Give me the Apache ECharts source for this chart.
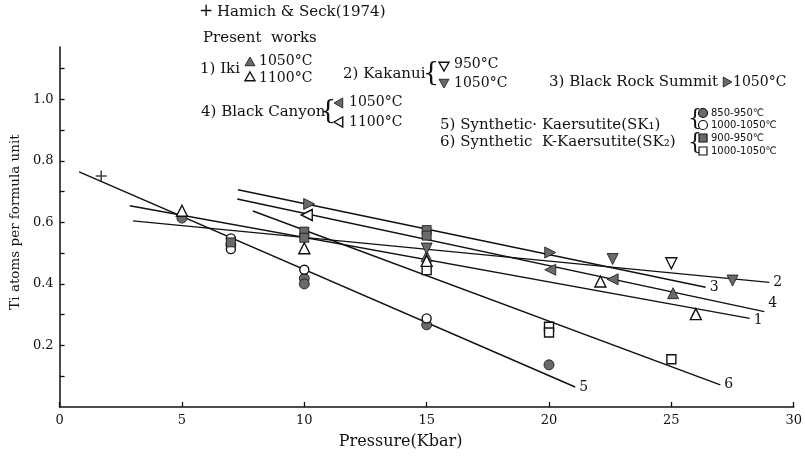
<!DOCTYPE html>
<html><head><meta charset="utf-8">
<script src="https://cdn.jsdelivr.net/npm/echarts@6/dist/echarts.min.js"></script>
<style>html,body{margin:0;padding:0;background:#fff}#c{width:805px;height:456px}</style>
</head><body><div id="c"></div>
<script>
// ---- data ----
const hamich = [[1.7, 0.751]];
const iki1050 = [[15, 0.49], [25.07, 0.37]];
const iki1100 = [[5, 0.638], [10, 0.516], [15, 0.475], [22.1, 0.408], [26, 0.302]];
const kak950 = [[25, 0.467]];
const kak1050 = [[15, 0.515], [22.6, 0.481], [27.5, 0.411]];
const brs1050 = [[10.2, 0.66], [20.05, 0.502]];
const bc1050 = [[20.05, 0.446], [22.6, 0.415]];
const bc1100 = [[10.1, 0.624]];
const sk1Low = [[5, 0.614], [7, 0.528], [10, 0.418], [10, 0.400], [15, 0.267], [20, 0.137]];
const sk1High = [[7, 0.548], [7, 0.513], [10, 0.446], [15, 0.288]];
const sk2Low = [[7, 0.535], [10, 0.57], [10, 0.55], [15, 0.575], [15, 0.557]];
const sk2High = [[15, 0.445], [20, 0.261], [20, 0.242], [25, 0.155]];
// regression lines: [start, end]
const line1 = [[2.87, 0.654], [28.2, 0.288]];
const line2 = [[3.0, 0.605], [29.0, 0.405]];
const line3 = [[7.29, 0.706], [26.4, 0.389]];
const line4 = [[7.26, 0.676], [28.8, 0.31]];
const line5 = [[0.8, 0.764], [21.07, 0.065]];
const line6 = [[7.9, 0.637], [27.0, 0.072]];
const xTicks = [0, 5, 10, 15, 20, 25, 30];
const yTicks = [0.1, 0.2, 0.3, 0.4, 0.5, 0.6, 0.7, 0.8, 0.9, 1.0, 1.1];
const yLabels = [0.2, 0.4, 0.6, 0.8, 1.0];

const SERIF = 'DejaVu Serif';
const GRAY = '#6a6a6a';
const chart = echarts.init(document.getElementById('c'), null, {renderer: 'canvas'});

function lineSeries(data, name, lab, off) {
  return {
    type: 'line', name: name, data: data, symbol: 'none', z: 2, silent: true,
    lineStyle: {color: '#111', width: 1.4},
    endLabel: {show: true, formatter: lab, color: '#111', fontFamily: SERIF, fontSize: 14, distance: 4, offset: off || [0, 0]}
  };
}
function scat(data, symbol, rot, filled, size) {
  return {
    type: 'scatter', data: data, symbol: symbol, symbolRotate: rot, symbolSize: size || 11, z: 5,
    itemStyle: {color: filled ? GRAY : '#fff', borderColor: '#111', borderWidth: filled ? 0.8 : 1.4, opacity: 1}
  };
}
const plusPath = 'path://M0,4.3H10V5.7H0Z M4.3,0H5.7V10H4.3Z';

// legend graphics
const g = [];
function txt(x, y, s, size, fam) {
  size = size || 15;
  g.push({type: 'text', x: x, y: y, style: {text: s, fill: '#111', fontSize: size, fontFamily: fam || SERIF, verticalAlign: 'middle', align: 'left'}});
}
function tri(cx, cy, dir, filled, r) {
  r = r || 5;
  let pts;
  if (dir === 'up') pts = [[cx, cy - r], [cx + r, cy + r * 0.75], [cx - r, cy + r * 0.75]];
  else if (dir === 'down') pts = [[cx, cy + r], [cx + r, cy - r * 0.75], [cx - r, cy - r * 0.75]];
  else if (dir === 'right') pts = [[cx + r, cy], [cx - r * 0.75, cy - r], [cx - r * 0.75, cy + r]];
  else pts = [[cx - r, cy], [cx + r * 0.75, cy - r], [cx + r * 0.75, cy + r]];
  g.push({type: 'polygon', shape: {points: pts}, style: {fill: filled ? GRAY : '#fff', stroke: '#111', lineWidth: filled ? 0.8 : 1.4}});
}
function circ(cx, cy, filled) {
  g.push({type: 'circle', shape: {cx: cx, cy: cy, r: 4.5}, style: {fill: filled ? GRAY : '#fff', stroke: '#111', lineWidth: 1.2}});
}
function sq(cx, cy, filled) {
  g.push({type: 'rect', shape: {x: cx - 4, y: cy - 4, width: 8, height: 8}, style: {fill: filled ? GRAY : '#fff', stroke: '#111', lineWidth: 1.2}});
}
function brace(x, y, h) {
  g.push({type: 'text', x: x, y: y, style: {text: '{', fill: '#111', fontSize: h, fontFamily: 'DejaVu Serif', verticalAlign: 'middle', align: 'center'}});
}
txt(199, 12, '+', 17, 'DejaVu Sans');
txt(217, 12, 'Hamich & Seck(1974)');
txt(203, 38, 'Present  works');
txt(200, 69, '1) Iki');
tri(250, 62, 'up', true); txt(259, 61, '1050°C', 14);
tri(250, 77, 'up', false); txt(259, 78, '1100°C', 14);
txt(343, 74, '2) Kakanui');
brace(431, 74, 26);
tri(444, 66, 'down', false); txt(454, 64, '950°C', 14);
tri(444, 83, 'down', true); txt(454, 83, '1050°C', 14);
txt(549, 82, '3) Black Rock Summit');
tri(727, 82, 'right', true); txt(733, 82, '1050°C', 14);
txt(201, 112, '4) Black Canyon');
brace(328, 112, 26);
tri(339, 103, 'left', true); txt(349, 102, '1050°C', 14);
tri(339, 122, 'left', false); txt(349, 122, '1100°C', 14);
txt(440, 125, '5) Synthetic· Kaersutite(SK₁)');
txt(440, 142, '6) Synthetic  K-Kaersutite(SK₂)');
brace(695, 119, 22);
brace(695, 143, 22);
circ(703, 113, true); txt(711, 113, '850-950℃', 10, 'DejaVu Sans');
circ(703, 125, false); txt(711, 125, '1000-1050℃', 10, 'DejaVu Sans');
sq(703, 138, true); txt(711, 138, '900-950℃', 10, 'DejaVu Sans');
sq(703, 151, false); txt(711, 151, '1000-1050℃', 10, 'DejaVu Sans');

const option = {
  animation: false,
  backgroundColor: '#fff',
  grid: {left: 53, right: 5, top: 47, bottom: 49, containLabel: false},
  xAxis: {
    type: 'value', min: 0, max: 30, interval: 5,
    name: 'Pressure(Kbar)', nameLocation: 'middle', nameGap: 27,
    nameTextStyle: {fontFamily: SERIF, fontSize: 16, color: '#111', padding: [0, 52, 0, 0]},
    axisLine: {lineStyle: {color: '#111', width: 1.5}},
    axisTick: {inside: true, length: 5, lineStyle: {color: '#111', width: 1.3}},
    axisLabel: {fontFamily: SERIF, fontSize: 13, color: '#111', margin: 7, customValues: xTicks},
    splitLine: {show: false}
  },
  yAxis: {
    type: 'value', min: 0, max: 1.17,
    name: 'Ti atoms per formula unit', nameLocation: 'middle', nameGap: 37, nameRotate: 90,
    nameTextStyle: {fontFamily: SERIF, fontSize: 13.5, color: '#111', padding: [0, 0, 0, 10]},
    axisLine: {lineStyle: {color: '#111', width: 1.5}},
    axisTick: {inside: true, length: 5, customValues: yTicks, lineStyle: {color: '#111', width: 1.3}},
    axisLabel: {fontFamily: SERIF, fontSize: 13, color: '#111', margin: 6, customValues: yLabels, formatter: v => v.toFixed(1)},
    splitLine: {show: false}
  },
  series: [
    lineSeries(line1, 'l1', '1', [0, 2]),
    lineSeries(line2, 'l2', '2'),
    lineSeries(line3, 'l3', '3'),
    lineSeries(line4, 'l4', '4', [0, -8]),
    lineSeries(line5, 'l5', '5'),
    lineSeries(line6, 'l6', '6'),
    {type: 'scatter', data: hamich, symbol: plusPath, symbolSize: 11, z: 5, itemStyle: {color: '#111'}},
    scat(sk1Low, 'circle', 0, true, 10),
    scat(sk1High, 'circle', 0, false, 9),
    scat(sk2Low, 'rect', 0, true, 9),
    scat(sk2High, 'rect', 0, false, 9),
    scat(iki1050, 'triangle', 0, true),
    scat(iki1100, 'triangle', 0, false),
    scat(kak950, 'triangle', 180, false),
    scat(kak1050, 'triangle', 180, true),
    scat(brs1050, 'triangle', -90, true),
    scat(bc1050, 'triangle', 90, true),
    scat(bc1100, 'triangle', 90, false)
  ],
  graphic: g
};
chart.setOption(option);
</script></body></html>
